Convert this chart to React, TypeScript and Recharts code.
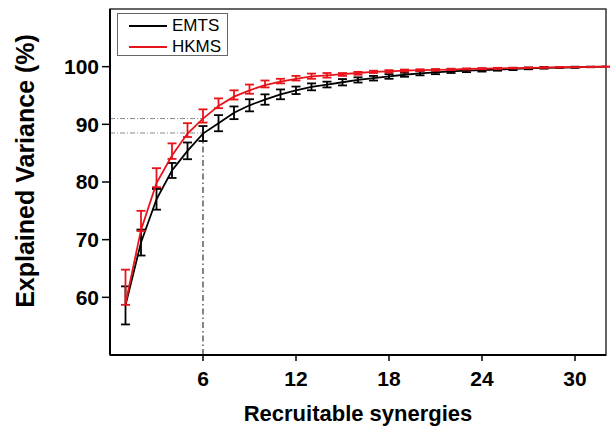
import React from 'react';
import {
  LineChart,
  Line,
  XAxis,
  YAxis,
  ErrorBar,
  ReferenceLine,
  ReferenceArea,
} from 'recharts';

// number of recruitable synergies: 1..32
const synergies = [
  1, 2, 3, 4, 5, 6, 7, 8, 9, 10, 11, 12, 13, 14, 15, 16,
  17, 18, 19, 20, 21, 22, 23, 24, 25, 26, 27, 28, 29, 30, 31, 32,
];

// EMTS mean and symmetric error
const emtsMean = [
  58.6, 69.5, 77.0, 82.0, 85.4, 88.4, 90.2, 92.0, 93.3, 94.3, 95.2, 95.9, 96.5, 96.9, 97.3, 97.7,
  98.0, 98.3, 98.6, 98.85, 99.0, 99.2, 99.3, 99.4, 99.5, 99.6, 99.7, 99.8, 99.85, 99.9, 99.95, 100,
];
const emtsErr = [
  3.3, 2.25, 1.8, 1.3, 1.45, 1.3, 1.4, 1.1, 1.05, 0.9, 0.85, 0.65, 0.6, 0.5, 0.55, 0.45,
  0.4, 0.4, 0.35, 0.35, 0.3, 0.3, 0.25, 0.25, 0.2, 0.2, 0.15, 0.15, 0.1, 0.1, 0.05, 0,
];

// HKMS mean with lower / upper bar ends
const hkmsMean = [
  58.9, 71.7, 79.8, 84.6, 88.4, 91.0, 93.2, 94.8, 95.9, 96.8, 97.4, 97.9, 98.3, 98.5, 98.7, 98.9,
  99.1, 99.2, 99.3, 99.4, 99.45, 99.5, 99.6, 99.65, 99.7, 99.75, 99.8, 99.85, 99.9, 99.93, 99.96, 100,
];
const hkmsLow = [
  58.7, 71.5, 79.1, 84.0, 87.8, 90.3, 92.8, 94.3, 95.3, 96.4, 97.1, 97.6, 97.9, 98.1, 98.4, 98.6,
  98.9, 99.0, 99.15, 99.25, 99.3, 99.4, 99.5, 99.55, 99.6, 99.7, 99.75, 99.8, 99.85, 99.9, 99.94, 100,
];
const hkmsHigh = [
  64.8, 75.0, 82.4, 86.7, 90.2, 92.6, 94.5, 95.9, 96.9, 97.6, 97.9, 98.4, 98.8, 98.9, 98.9, 99.1,
  99.3, 99.4, 99.5, 99.55, 99.6, 99.65, 99.7, 99.75, 99.8, 99.82, 99.86, 99.9, 99.94, 99.96, 99.98, 100,
];

const xTicks = [6, 12, 18, 24, 30];
const yTicks = [60, 70, 80, 90, 100];

const data = synergies.map((n, i) => ({
  n,
  emts: emtsMean[i],
  emtsErr: emtsErr[i],
  hkms: hkmsMean[i],
  hkmsErr: [hkmsMean[i] - hkmsLow[i], hkmsHigh[i] - hkmsMean[i]],
}));

const RED = '#e8141b';
const FONT = '"Liberation Sans", Arial, sans-serif';

const legendItems = [
  { name: 'EMTS', color: '#000' },
  { name: 'HKMS', color: RED },
];

const LegendBox = () => (
  <div
    style={{
      position: 'absolute',
      left: 117,
      top: 13,
      border: '1px solid #666',
      background: '#fff',
      width: 111,
      height: 43,
      boxSizing: 'border-box',
      fontFamily: FONT,
      fontSize: 17,
      lineHeight: '17px',
      padding: '3px 0 0 11px',
    }}
  >
    {legendItems.map(item => (
      <div key={item.name} style={{ display: 'flex', alignItems: 'center', height: 17, marginBottom: 4 }}>
        <span style={{ display: 'inline-block', width: 38, height: 2, background: item.color, marginRight: 5 }} />
        <span>{item.name}</span>
      </div>
    ))}
  </div>
);

// rotated y-axis title, placed a bit above the plot centre like the original
const YTitle = () => (
  <text
    x={34}
    y={171}
    transform="rotate(-90, 34, 171)"
    textAnchor="middle"
    fill="#000"
    fontSize={25}
    fontWeight="bold"
    fontFamily={FONT}
  >
    Explained Variance (%)
  </text>
);

const App: React.FC = () => {
  return (
    <div style={{ position: 'absolute', left: 0, top: 0, width: 610, height: 429, background: '#fff' }}>
      <LineChart width={610} height={429} data={data} margin={{ top: 9, right: 4, bottom: 0, left: 0 }}>
        <ReferenceArea x1={0} x2={32} y1={50} y2={110} fill="none" stroke="#333" strokeWidth={1.5} ifOverflow="visible" />
        <XAxis
          dataKey="n"
          type="number"
          domain={[0, 32]}
          ticks={xTicks}
          height={74}
          tickSize={6}
          tickMargin={10}
          axisLine={{ stroke: '#000', strokeWidth: 2 }}
          tickLine={{ stroke: '#000', strokeWidth: 1.5 }}
          tick={{ fill: '#000', fontSize: 21, fontWeight: 'bold', fontFamily: FONT }}
          label={{
            value: 'Recruitable synergies',
            position: 'insideBottom',
            offset: 8,
            style: { fill: '#000', fontSize: 22, fontWeight: 'bold', fontFamily: FONT },
          }}
        />
        <YAxis
          type="number"
          domain={[50, 110]}
          ticks={yTicks}
          width={110}
          tickSize={8}
          tickMargin={3}
          axisLine={{ stroke: '#000', strokeWidth: 2 }}
          tickLine={{ stroke: '#000', strokeWidth: 1.5 }}
          tick={{ fill: '#000', fontSize: 21, fontWeight: 'bold', fontFamily: FONT }}
          label={{ content: () => <YTitle /> }}
        />
        <ReferenceLine
          segment={[{ x: 0, y: 91.0 }, { x: 6, y: 91.0 }]}
          stroke="#888"
          strokeWidth={1}
          strokeDasharray="5 2 1 2"
        />
        <ReferenceLine
          segment={[{ x: 0, y: 88.5 }, { x: 6, y: 88.5 }]}
          stroke="#888"
          strokeWidth={1}
          strokeDasharray="5 2 1 2"
        />
        <ReferenceLine
          segment={[{ x: 6, y: 50 }, { x: 6, y: 88.5 }]}
          stroke="#333"
          strokeWidth={1.2}
          strokeDasharray="6 3 1.5 3"
        />
        <Line
          dataKey="emts"
          name="EMTS"
          stroke="#000"
          strokeWidth={1.8}
          dot={false}
          isAnimationActive={false}
        >
          <ErrorBar dataKey="emtsErr" direction="y" width={4.5} stroke="#000" strokeWidth={1.8} />
        </Line>
        <Line
          dataKey="hkms"
          name="HKMS"
          stroke={RED}
          strokeWidth={1.8}
          dot={false}
          isAnimationActive={false}
        >
          <ErrorBar dataKey="hkmsErr" direction="y" width={4.5} stroke={RED} strokeWidth={1.8} />
        </Line>
      </LineChart>
      <LegendBox />
    </div>
  );
};

export default App;
